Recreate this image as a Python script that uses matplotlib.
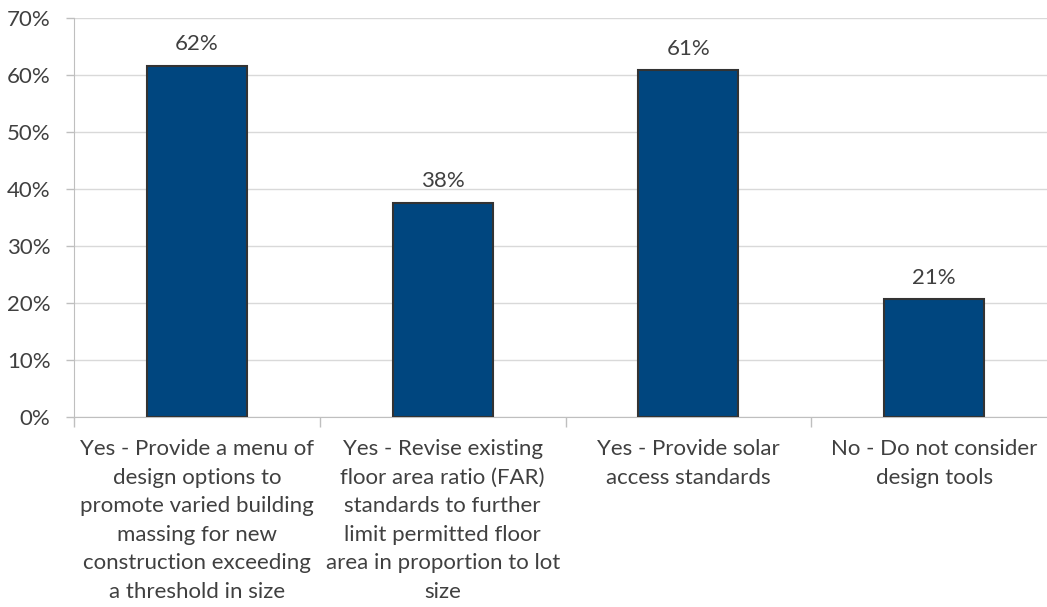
import matplotlib
matplotlib.use("Agg")
import matplotlib.pyplot as plt
import numpy as np

categories = [
    "Yes - Provide a menu of\ndesign options to\npromote varied building\nmassing for new\nconstruction exceeding\na threshold in size",
    "Yes - Revise existing\nfloor area ratio (FAR)\nstandards to further\nlimit permitted floor\narea in proportion to lot\nsize",
    "Yes - Provide solar\naccess standards",
    "No - Do not consider\ndesign tools",
]
values = [61.6, 37.6, 60.8, 20.7]
labels = ["62%", "38%", "61%", "21%"]
yticks = [0, 10, 20, 30, 40, 50, 60, 70]
ytick_labels = ["0%", "10%", "20%", "30%", "40%", "50%", "60%", "70%"]

plt.rcParams['font.family'] = ['Lato', 'DejaVu Sans']
text_color = "#404040"

fig = plt.figure(figsize=(10.47, 6.07), dpi=100)
ax = fig.add_axes([74/1047, 1 - 417/607, 983/1047, (417-18)/607])

x = np.arange(len(categories))
ax.bar(x, values, width=0.407, color="#00467F", edgecolor="#333333", linewidth=1.5, zorder=3)
for xi, v, lab in zip(x, values, labels):
    ax.text(xi, v + 2.0, lab, ha="center", va="bottom", fontsize=16, color=text_color)

ax.set_xlim(-0.5, len(categories) - 0.5)
ax.set_ylim(0, 70)
ax.set_yticks(yticks)
ax.set_yticklabels(ytick_labels, fontsize=16, color=text_color)
ax.yaxis.grid(True, color="#d9d9d9", linewidth=1, zorder=0)
ax.set_axisbelow(True)

ax.set_xticks(x)
ax.set_xticklabels(categories, fontsize=16, color=text_color, linespacing=1.53)
ax.tick_params(axis="x", length=0, pad=16)
ax.set_xticks(np.arange(-0.5, len(categories) + 0.5, 1), minor=True)
ax.tick_params(axis="x", which="minor", length=7, color="#bfbfbf", width=1)
ax.tick_params(axis="y", length=6, color="#bfbfbf", width=1, pad=11)

for s in ["top", "right"]:
    ax.spines[s].set_visible(False)
ax.spines["left"].set_color("#bfbfbf")
ax.spines["bottom"].set_color("#bfbfbf")

fig.savefig("out.png", dpi=100)
